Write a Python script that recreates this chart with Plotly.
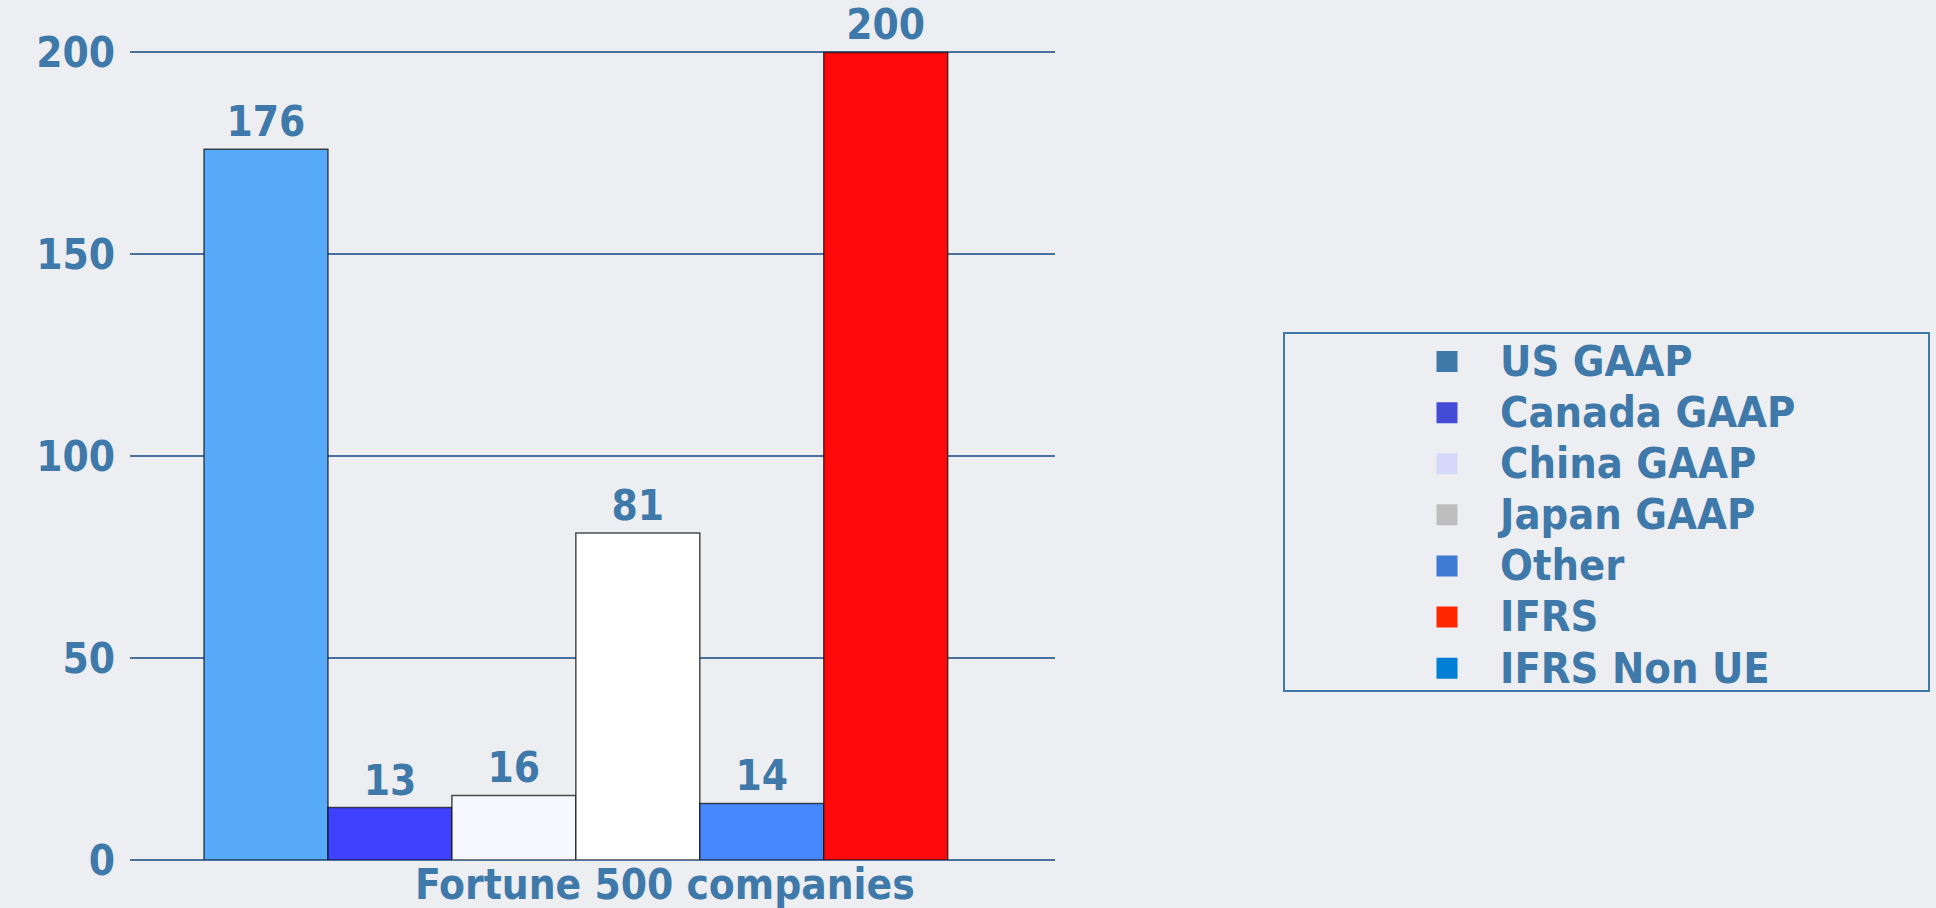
import plotly.graph_objects as go

# ---- data ----
category = ["Fortune 500 companies"]
bar_names = ["US GAAP", "Canada GAAP", "China GAAP", "Japan GAAP", "Other", "IFRS"]
bar_values = [176, 13, 16, 81, 14, 200]
bar_colors = ["#56aaf8", "#4040ff", "#f7f7ff", "#ffffff", "#4787ff", "#ff0a0a"]

legend_names = ["US GAAP", "Canada GAAP", "China GAAP", "Japan GAAP", "Other", "IFRS", "IFRS Non UE"]
legend_colors = ["#3f79a9", "#444bd6", "#d6d8fa", "#bebebe", "#3f7ad4", "#ff2600", "#007ed6"]

y_ticks = [0, 50, 100, 150, 200]

TEXT = "#3f79aa"
FONT = "DejaVu Sans Condensed, DejaVu Sans, sans-serif"

fig = go.Figure()

for name, val, col in zip(bar_names, bar_values, bar_colors):
    fig.add_trace(go.Bar(
        x=category, y=[val], name=name, showlegend=False,
        marker=dict(color=col, line=dict(color="rgba(20,20,20,0.75)", width=1.5)),
        text=[str(val)], textposition="outside", cliponaxis=False,
        textfont=dict(family=FONT, size=42, color=TEXT, weight="bold"),
    ))

for name, col in zip(legend_names, legend_colors):
    fig.add_trace(go.Scatter(
        x=[None], y=[None], mode="markers", showlegend=True,
        name="<span style='font-size:43px'>" + name + "</span>",
        marker=dict(symbol="square", size=16, color=col, line=dict(color=col, width=5)),
    ))

T, B, L, R = 50, 48, 130, 881
PH = 908 - T - B
ITEMW = 96

fig.update_layout(
    width=1936, height=908,
    margin=dict(l=L, r=R, t=T, b=B),
    paper_bgcolor="#eceef1", plot_bgcolor="#eceef1",
    barmode="group", bargap=0.196, bargroupgap=0,
    font=dict(family=FONT, color=TEXT, weight="bold"),
    xaxis=dict(type="category", range=[-0.482, 0.518], showticklabels=False,
               showgrid=False, zeroline=False, showline=False, ticks=""),
    yaxis=dict(range=[0, 200.6], tickvals=y_ticks, showgrid=True, gridcolor="#4a72a0",
               gridwidth=2, zeroline=True, zerolinecolor="#4a72a0", zerolinewidth=2,
               tickfont=dict(family=FONT, size=42, color=TEXT, weight="bold"),
               ticks="", ticklabelstandoff=14),
    legend=dict(x=(1490 - ITEMW - L) / 925, y=(860 - 331) / PH, xanchor="left", yanchor="top",
                bgcolor="rgba(0,0,0,0)", borderwidth=0, itemwidth=ITEMW,
                font=dict(family=FONT, size=37, color=TEXT, weight="bold")),
    shapes=[dict(type="rect", xref="paper", yref="paper",
                 x0=(1284 - L) / 925, x1=(1929 - L) / 925,
                 y0=(860 - 691) / PH, y1=(860 - 333) / PH,
                 line=dict(color=TEXT, width=2), fillcolor="rgba(0,0,0,0)")],
    annotations=[dict(text="Fortune 500 companies", xref="paper", yref="paper",
                      x=(665 - L) / 925, y=(860 - 884) / PH, xanchor="center", yanchor="middle",
                      showarrow=False,
                      font=dict(family=FONT, size=42, color=TEXT, weight="bold"))],
)

fig.write_html("out.html", config={"displayModeBar": False},
               post_script="document.body.style.margin='0';document.body.style.overflow='hidden';"
                           "document.documentElement.style.overflow='hidden';")
